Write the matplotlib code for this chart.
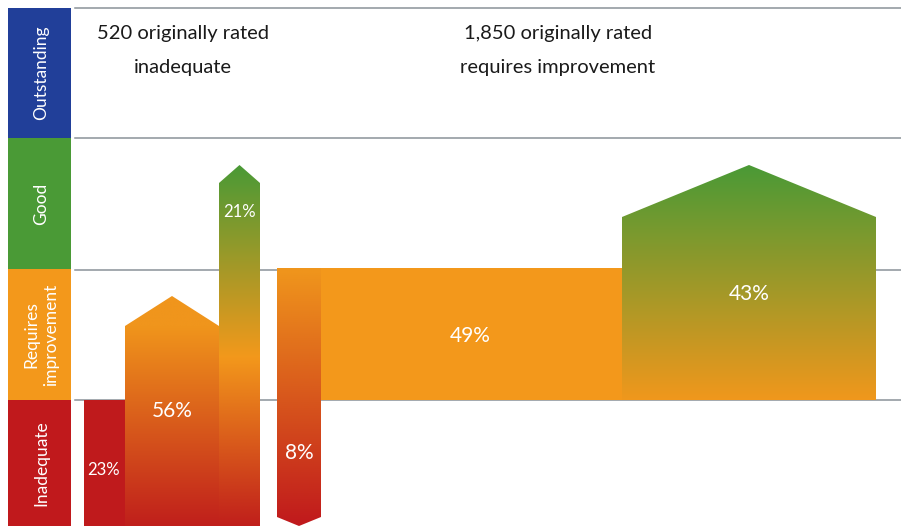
import numpy as np
import matplotlib.pyplot as plt
from matplotlib.patches import Polygon, Rectangle
from matplotlib.colors import to_rgb

plt.rcParams['font.family'] = ['Lato', 'DejaVu Sans']

# rating scale, bottom to top
ratings = ["Inadequate", "Requires\nimprovement", "Good", "Outstanding"]
rating_colors = ["#c0191c", "#f3981b", "#4a9a36", "#213f99"]
band_edges = [526, 400, 269, 138, 8]

group_titles = ["520 originally rated\ninadequate", "1,850 originally rated\nrequires improvement"]
# 520 inadequate: stayed inadequate, went to RI, went to good
inad_shares = [23, 56, 21]
# 1,850 RI: dropped to inadequate, stayed RI, went to good
ri_shares = [8, 49, 43]

RED, ORANGE, GREEN = rating_colors[0], rating_colors[1], rating_colors[2]


def fill_shape(ax, verts, stops):
    poly = Polygon(verts, closed=True, facecolor='none', edgecolor='none', zorder=2)
    ax.add_patch(poly)
    xs = [v[0] for v in verts]
    ys = [v[1] for v in verts]
    y0, y1 = min(ys), max(ys)
    yy = np.linspace(y0, y1, 300)
    sy = np.array([s[0] for s in stops], dtype=float)
    cols = np.array([to_rgb(s[1]) for s in stops])
    o = np.argsort(sy)
    img = np.stack([np.interp(yy, sy[o], cols[o, c]) for c in range(3)], axis=-1)[:, None, :]
    im = ax.imshow(img, extent=(min(xs), max(xs), y1, y0), aspect='auto',
                   interpolation='bilinear', zorder=2)
    im.set_clip_path(poly)


def up_arrow(x0, x1, base, top, peak):
    xm = (x0 + x1) / 2
    return [(x0, base), (x0, top), (xm, peak), (x1, top), (x1, base)]


def down_arrow(x0, x1, top, bottom, tip):
    xm = (x0 + x1) / 2
    return [(x0, top), (x0, bottom), (xm, tip), (x1, bottom), (x1, top)]


fig = plt.figure(figsize=(9.01, 5.26), dpi=100)
ax = fig.add_axes([0, 0, 1, 1])
ax.set_axis_off()

# rating bands on the left
for i, (name, col) in enumerate(zip(ratings, rating_colors)):
    lo, hi = band_edges[i], band_edges[i + 1]
    ax.add_patch(Rectangle((8, hi), 63, lo - hi, facecolor=col, edgecolor='none', zorder=1))
    ax.text(41, (lo + hi) / 2, name, rotation=90, color='white', fontsize=12.5,
            ha='center', va='center', linespacing=1.3, zorder=3)

# grid lines
for y in [8, 138, 270, 400]:
    ax.plot([75, 901], [y, y], color='#8a9299', lw=1.1, zorder=1)

# 520 originally inadequate
ax.add_patch(Rectangle((84, 400), 41, 126, facecolor='#bf1a1c', edgecolor='none', zorder=2))
fill_shape(ax, up_arrow(125, 219, 526, 326, 296), [(526, '#c01f1b'), (326, '#f0951c')])
fill_shape(ax, up_arrow(219, 260, 526, 183, 165),
           [(526, '#c01f1b'), (357, '#f3981b'), (165, '#4a9a36')])

# 1,850 originally requires improvement
fill_shape(ax, down_arrow(277, 321, 268, 517, 526), [(268, '#f0961c'), (526, '#c0191c')])
ax.add_patch(Rectangle((321, 268), 301, 132, facecolor=ORANGE, edgecolor='none', zorder=2))
fill_shape(ax, up_arrow(622, 876, 400, 217, 165), [(400, '#f0971c'), (165, '#4a9a36')])

labels = [
    (103, 470, inad_shares[0], 12),
    (172, 411, inad_shares[1], 15),
    (239, 212, inad_shares[2], 12),
    (299, 453, ri_shares[0], 15),
    (470, 336, ri_shares[1], 15),
    (749, 294, ri_shares[2], 15),
]
for x, y, v, fs in labels:
    ax.text(x, y, f"{v}%", color='white', fontsize=fs, ha='center', va='center', zorder=4)

for xc, title in zip([183, 558], group_titles):
    for y, line in zip([34, 68], title.split('\n')):
        ax.text(xc, y, line, fontsize=14.5, ha='center', va='center', color='#1a1a1a')

ax.set_xlim(0, 901)
ax.set_ylim(526, 0)
fig.savefig('out.png', dpi=100)
